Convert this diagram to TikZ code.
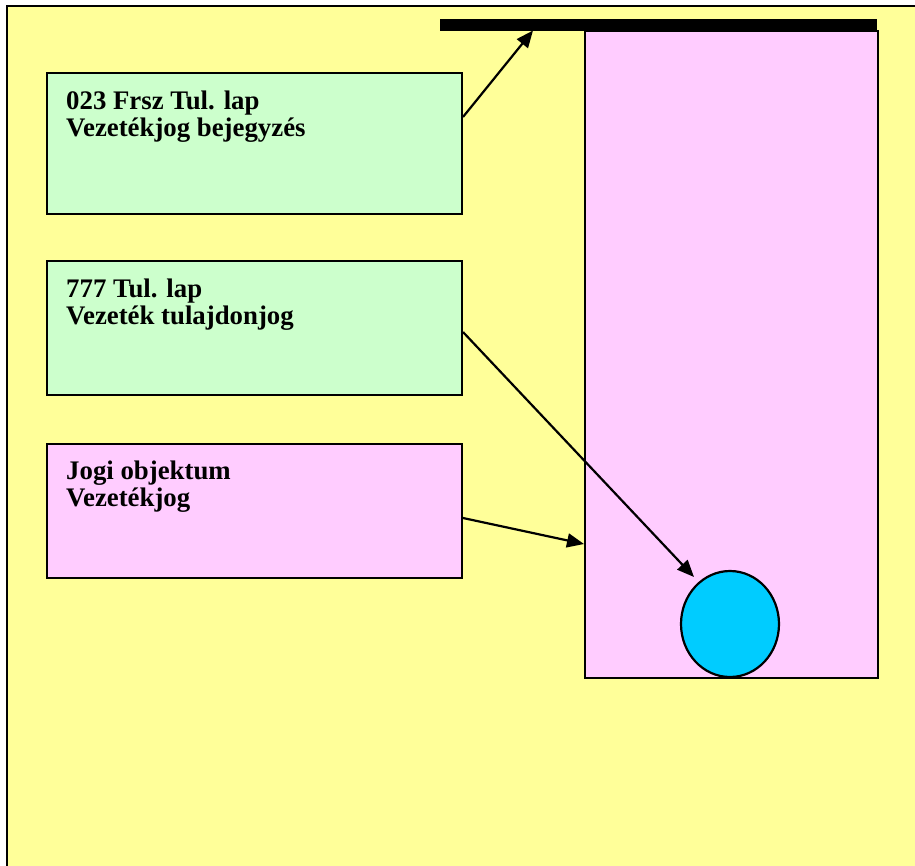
\documentclass[tikz,border=0pt]{standalone}
\usepackage{fontspec}
\setmainfont{Liberation Serif}
\usetikzlibrary{arrows.meta,shapes.geometric}
\definecolor{bgyellow}{HTML}{FFFF99}
\definecolor{boxgreen}{HTML}{CCFFCC}
\definecolor{boxpink}{HTML}{FFCCFF}
\definecolor{ballcyan}{HTML}{00CCFF}
\tikzset{
  box/.style={draw=black, line width=2pt, rectangle, inner sep=0pt, anchor=north west},
  lbl/.style={anchor=base west, inner sep=0pt, font=\fontsize{26.8}{27}\selectfont\bfseries},
  conn/.style={draw=black, line width=2.2pt, -{Triangle[length=17pt,width=14pt]}}
}
\begin{document}
\begin{tikzpicture}[x=1pt,y=-1pt]
\useasboundingbox (0,0) rectangle (915,865);
\fill[white] (0,0) rectangle (915,865);
\draw[fill=bgyellow, line width=2pt] (6.5,5.5) rectangle (930,880);
% tall pink panel and bar
\node[box, fill=boxpink, minimum width=293pt, minimum height=647pt] (panel) at (584,30) {};
\node[rectangle, fill=black, inner sep=0pt, minimum width=437pt, minimum height=11.5pt, anchor=north west] (bar) at (440,19) {};
% ball
\node[ellipse, draw=black, line width=2.2pt, fill=ballcyan, minimum width=98pt, minimum height=106pt, inner sep=0pt] (ball) at (730,624) {};
% boxes
\node[box, fill=boxgreen, minimum width=415pt, minimum height=141pt] (b1) at (46,72) {};
\node[box, fill=boxgreen, minimum width=415pt, minimum height=134pt] (b2) at (46,260) {};
\node[box, fill=boxpink, minimum width=415pt, minimum height=134pt] (b3) at (46,443) {};
% labels
\node[lbl] (t1a) at (66,109) {023 Frsz Tul. lap};
\node[lbl] (t1b) at (66,136) {Vezetékjog bejegyzés};
\node[lbl] (t2a) at (66,297) {777 Tul. lap};
\node[lbl] (t2b) at (66,324) {Vezeték tulajdonjog};
\node[lbl] (t3a) at (66,479) {Jogi objektum};
\node[lbl] (t3b) at (66,506) {Vezetékjog};
% connector endpoints
\coordinate (s1) at (b1.north east |- 0,117);
\coordinate (e1) at (533,30.5);
\coordinate (s2) at (b2.north east |- 0,332);
\coordinate (e2) at (694,577);
\coordinate (s3) at (b3.north east |- 0,518);
\coordinate (e3) at (panel.north west |- 0,544);
\draw[conn] (s1) -- (e1);
\draw[conn] (s2) -- (e2);
\draw[conn] (s3) -- (e3);
\end{tikzpicture}
\end{document}
